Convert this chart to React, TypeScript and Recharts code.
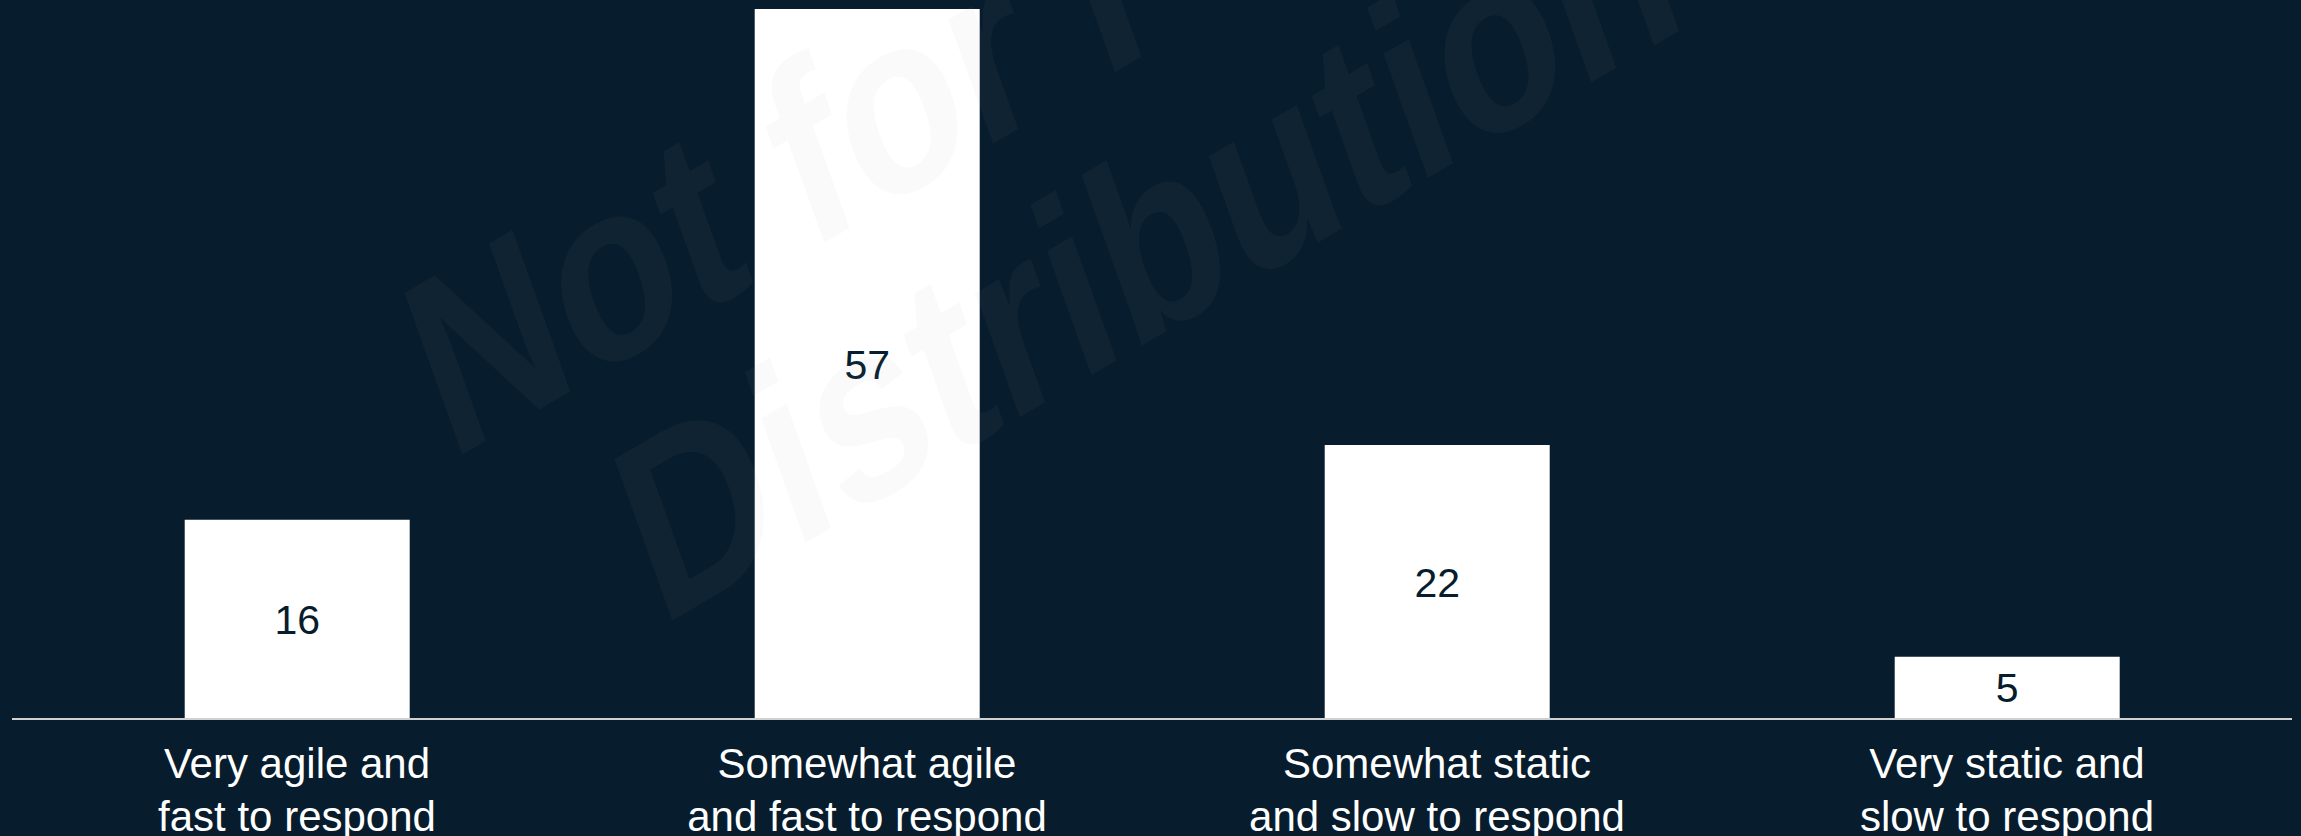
import { BarChart, Bar, XAxis, YAxis, LabelList } from 'recharts';

const categories = [
  ['Very agile and', 'fast to respond'],
  ['Somewhat agile', 'and fast to respond'],
  ['Somewhat static', 'and slow to respond'],
  ['Very static and', 'slow to respond'],
];

const values = [16, 57, 22, 5];

const watermarkLines = ['Not for Public', 'Distribution'];

const chartData = categories.map((lines, i) => ({
  name: lines.join(' '),
  value: values[i],
}));

const BG = '#071c2c';
const FONT = '"Liberation Sans", Arial, sans-serif';

function CategoryTick(props: any) {
  const { x, y, index } = props;
  const lines = categories[index] || [];
  return (
    <text x={x} y={y} textAnchor="middle" fill="#ffffff" fontSize={42} fontFamily={FONT}>
      {lines.map((line, i) => (
        <tspan key={i} x={x} y={y + 51 + i * 53}>
          {line}
        </tspan>
      ))}
    </text>
  );
}

export default function App() {
  return (
    <div
      style={{
        position: 'absolute',
        left: 0,
        top: 0,
        width: 2301,
        height: 836,
        background: BG,
        overflow: 'hidden',
      }}
    >
      <BarChart
        width={2301}
        height={836}
        data={chartData}
        margin={{ top: 9, right: 9, bottom: 0, left: 12 }}
        barCategoryGap="30.3%"
      >
        <XAxis
          dataKey="name"
          height={117}
          axisLine={{ stroke: '#d0d0d0', strokeWidth: 2 }}
          tickLine={false}
          interval={0}
          tick={<CategoryTick />}
        />
        <YAxis hide domain={[0, 57]} />
        <Bar dataKey="value" fill="#ffffff" isAnimationActive={false}>
          <LabelList
            dataKey="value"
            position="center"
            fill={BG}
            fontSize={41}
            fontFamily={FONT}
          />
        </Bar>
      </BarChart>

      {/* faint watermark over the chart */}
      <svg
        width={2301}
        height={836}
        style={{ position: 'absolute', left: 0, top: 0, pointerEvents: 'none' }}
      >
        {watermarkLines.map((line, i) => (
          <text
            key={i}
            transform={
              i === 0
                ? 'translate(450,462) scale(1,1.28) rotate(-24.6)'
                : 'translate(660,628) scale(1,1.28) rotate(-24.6)'
            }
            fill="#a8a8a8"
            fillOpacity={0.056}
            fontSize={202}
            fontWeight="bold"
            fontFamily={FONT}
          >
            {line}
          </text>
        ))}
      </svg>
    </div>
  );
}
